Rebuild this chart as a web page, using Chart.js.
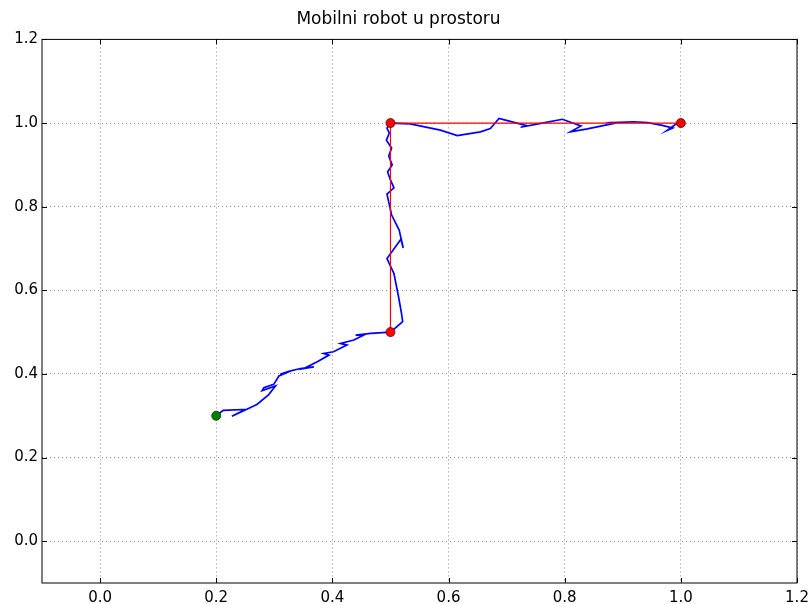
<!DOCTYPE html>
<html>
<head>
<meta charset="utf-8">
<title>Mobilni robot u prostoru</title>
<script src="https://cdn.jsdelivr.net/npm/chart.js@4/dist/chart.umd.min.js"></script>
<style>
  body { margin: 0; background: #fff; }
  #wrap { width: 810px; height: 604px; }
</style>
</head>
<body>
<div id="wrap"><canvas id="chart" width="810" height="604"></canvas></div>
<script>
// robot path (x, y) as measured
const pathX = [0.200, 0.212, 0.250, 0.227, 0.270, 0.290, 0.302, 0.279, 0.282, 0.299,
  0.308, 0.328, 0.310, 0.325, 0.345, 0.368, 0.351, 0.374, 0.394, 0.385,
  0.402, 0.425, 0.414, 0.437, 0.454, 0.440, 0.466, 0.500,
  0.521, 0.519, 0.514, 0.506, 0.494, 0.518, 0.522, 0.515, 0.502, 0.494,
  0.506, 0.500, 0.495, 0.503, 0.497, 0.502, 0.493, 0.498, 0.494, 0.500,
  0.534, 0.586, 0.615, 0.655, 0.672, 0.687, 0.698, 0.736, 0.724, 0.759,
  0.796, 0.828, 0.810, 0.839, 0.885, 0.879, 0.919, 0.943, 0.966, 0.986,
  0.976, 0.991, 1.000];
const pathY = [0.300, 0.313, 0.315, 0.299, 0.327, 0.350, 0.371, 0.360, 0.367, 0.375,
  0.395, 0.407, 0.399, 0.406, 0.413, 0.417, 0.413, 0.429, 0.445, 0.449,
  0.453, 0.469, 0.473, 0.481, 0.493, 0.493, 0.497, 0.500,
  0.525, 0.545, 0.584, 0.640, 0.676, 0.722, 0.701, 0.744, 0.780, 0.830,
  0.845, 0.864, 0.883, 0.900, 0.921, 0.940, 0.959, 0.976, 0.988, 1.000,
  0.998, 0.983, 0.970, 0.979, 0.987, 1.011, 1.007, 0.993, 0.990, 0.999,
  1.009, 0.993, 0.979, 0.986, 0.999, 1.001, 1.003, 1.001, 0.995, 0.988,
  0.982, 0.997, 1.000];

// planned waypoints
const wayX = [0.5, 0.5, 1.0];
const wayY = [0.5, 1.0, 1.0];

const startX = [0.2];
const startY = [0.3];

const xTicks = [0.0, 0.2, 0.4, 0.6, 0.8, 1.0, 1.2];
const yTicks = [0.0, 0.2, 0.4, 0.6, 0.8, 1.0, 1.2];

const toPoints = (xs, ys) => xs.map((x, i) => ({ x: x, y: ys[i] }));

// matplotlib-like ticks pointing into the axes on all four sides
const innerTicks = {
  id: "innerTicks",
  afterDraw(chart) {
    const { ctx, chartArea: a, scales } = chart;
    const len = 5;
    ctx.save();
    ctx.strokeStyle = "#000";
    ctx.lineWidth = 1;
    ctx.beginPath();
    xTicks.forEach(v => {
      const px = Math.round(scales.x.getPixelForValue(v)) + 0.5;
      ctx.moveTo(px, a.bottom); ctx.lineTo(px, a.bottom - len);
      ctx.moveTo(px, a.top); ctx.lineTo(px, a.top + len);
    });
    yTicks.forEach(v => {
      const py = Math.round(scales.y.getPixelForValue(v)) + 0.5;
      ctx.moveTo(a.left, py); ctx.lineTo(a.left + len, py);
      ctx.moveTo(a.right, py); ctx.lineTo(a.right - len, py);
    });
    ctx.stroke();
    ctx.strokeRect(a.left, a.top, a.right - a.left, a.bottom - a.top);
    ctx.restore();
  }
};

const gridOpts = {
  color: "rgba(0,0,0,0.45)",
  lineWidth: 1,
  drawTicks: false
};

new Chart(document.getElementById("chart").getContext("2d"), {
  type: "scatter",
  data: {
    datasets: [
      {
        data: toPoints(startX, startY),
        pointRadius: 4.5,
        pointBackgroundColor: "#007f00",
        pointBorderColor: "#003300",
        pointBorderWidth: 0.8,
        order: 0
      },
      {
        data: toPoints(wayX, wayY),
        showLine: true,
        borderColor: "red",
        borderWidth: 1.2,
        pointRadius: 4.5,
        pointBackgroundColor: "red",
        pointBorderColor: "#550000",
        pointBorderWidth: 0.8,
        order: 1
      },
      {
        data: toPoints(pathX, pathY),
        showLine: true,
        borderColor: "blue",
        borderWidth: 1.7,
        pointRadius: 0,
        tension: 0,
        order: 2
      }
    ]
  },
  options: {
    responsive: false,
    animation: false,
    layout: { padding: { right: 13, left: 0, bottom: 0 } },
    plugins: {
      legend: { display: false },
      tooltip: { enabled: false },
      title: {
        display: true,
        text: "Mobilni robot u prostoru",
        color: "#000",
        font: { family: "DejaVu Sans", size: 17, weight: "normal" },
        padding: { top: 9, bottom: 10 }
      }
    },
    scales: {
      x: {
        type: "linear",
        min: -0.1,
        max: 1.2,
        afterBuildTicks: s => { s.ticks = xTicks.map(v => ({ value: v })); },
        afterFit: s => { s.height = 21; s.paddingLeft = 0; s.paddingRight = 0; },
        grid: Object.assign({}, gridOpts),
        border: { display: false, dash: [1, 3] },
        ticks: {
          color: "#000",
          padding: 6,
          maxRotation: 0,
          font: { family: "DejaVu Sans", size: 15 },
          callback: v => v.toFixed(1)
        }
      },
      y: {
        type: "linear",
        min: -0.1,
        max: 1.2,
        afterBuildTicks: s => { s.ticks = yTicks.map(v => ({ value: v })); },
        afterFit: s => { s.width = 42; s.paddingTop = 0; s.paddingBottom = 0; },
        grid: Object.assign({}, gridOpts),
        border: { display: false, dash: [1, 3] },
        ticks: {
          color: "#000",
          padding: 4,
          font: { family: "DejaVu Sans", size: 15 },
          callback: v => v.toFixed(1)
        }
      }
    }
  },
  plugins: [innerTicks]
});
</script>
</body>
</html>
